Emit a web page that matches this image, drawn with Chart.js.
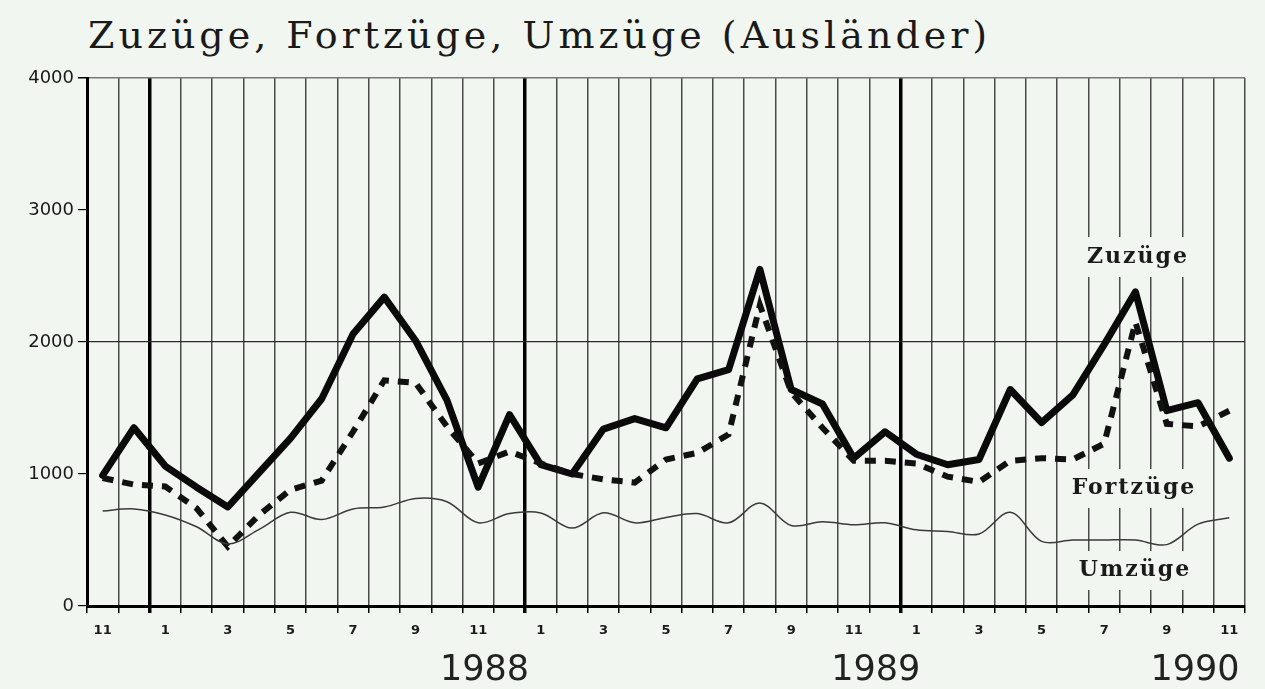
<!DOCTYPE html>
<html>
<head>
<meta charset="utf-8">
<script src="https://cdn.jsdelivr.net/npm/chart.js@4"></script>
<style>
  html, body { margin: 0; padding: 0; background: #f2f6f0; }
  #wrap { position: relative; width: 1265px; height: 689px; overflow: hidden; }
  #title {
    position: absolute; left: 88px; top: 13px;
    font-family: "DejaVu Serif", serif; font-size: 38px;
    letter-spacing: 4px; color: #1a1a1a; white-space: nowrap;
  }
  canvas { position: absolute; left: 0; top: 0; }
</style>
</head>
<body>
<div id="wrap">
  <div id="title">Zuzüge, Fortzüge, Umzüge (Ausländer)</div>
  <canvas id="chart" width="1265" height="689"></canvas>
</div>
<script>
// months Nov 1987 .. Nov 1990
const months = [11, 12, 1, 2, 3, 4, 5, 6, 7, 8, 9, 10, 11, 12,
  1, 2, 3, 4, 5, 6, 7, 8, 9, 10, 11, 12,
  1, 2, 3, 4, 5, 6, 7, 8, 9, 10, 11];

const zuzuege = [990, 1350, 1060, 900, 750, 1010, 1270, 1570, 2060, 2340,
  2010, 1560, 900, 1450, 1070, 1000, 1340, 1420, 1350, 1720,
  1790, 2550, 1640, 1530, 1120, 1320, 1150, 1070, 1110, 1640,
  1390, 1600, 1980, 2380, 1480, 1540, 1120];

const fortzuege = [970, 920, 905, 740, 450, 690, 880, 950, 1320, 1710,
  1690, 1360, 1080, 1170, 1080, 1000, 960, 935, 1110, 1160,
  1300, 2280, 1620, 1350, 1100, 1100, 1080, 980, 940, 1100,
  1120, 1110, 1230, 2150, 1380, 1360, 1480];

const umzuege = [720, 735, 690, 600, 470, 580, 710, 655, 735, 750,
  815, 790, 630, 700, 705, 590, 706, 630, 670, 700,
  630, 780, 610, 638, 615, 630, 577, 565, 545, 710,
  490, 500, 500, 500, 465, 620, 668];

const seriesNames = ["Zuzüge", "Fortzüge", "Umzüge"];
const yearLabels = ["1988", "1989", "1990"];
const yTicks = [0, 1000, 2000, 3000, 4000];

const BG = "#f2f6f0";

const annotations = {
  id: "annotations",
  beforeDatasetsDraw(chart) {
    const ctx = chart.ctx;
    ctx.save();
    // label boxes hide the grid behind the series names
    const boxes = [
      { text: seriesNames[0], x: 1070, y: 237, w: 134, h: 40 },
      { text: seriesNames[1], x: 1060, y: 469, w: 146, h: 39 },
      { text: seriesNames[2], x: 1064, y: 551, w: 140, h: 39 },
    ];
    ctx.font = "bold 22px 'DejaVu Serif'";
    ctx.letterSpacing = "2px";
    ctx.textAlign = "center";
    ctx.textBaseline = "middle";
    boxes.forEach((b) => {
      ctx.fillStyle = BG;
      ctx.fillRect(b.x, b.y, b.w, b.h);
      ctx.fillStyle = "#1a1a1a";
      ctx.fillText(b.text, b.x + b.w / 2 + 1, b.y + b.h / 2);
    });
    ctx.restore();
  },
  afterDraw(chart) {
    const ctx = chart.ctx;
    const x = chart.scales.x;
    const pos = [12.2, 24.7, 34.9];
    ctx.save();
    ctx.font = "35px 'DejaVu Sans'";
    ctx.fillStyle = "#222";
    ctx.textAlign = "center";
    ctx.textBaseline = "middle";
    yearLabels.forEach((t, i) => {
      ctx.fillText(t, x.getPixelForValue(pos[i]), 671);
    });
    ctx.restore();
  },
};

new Chart(document.getElementById("chart"), {
  type: "line",
  data: {
    labels: months,
    datasets: [
      {
        label: seriesNames[2],
        data: umzuege,
        borderColor: "#3a3a3a",
        borderWidth: 1.5,
        tension: 0.35,
        pointRadius: 0,
      },
      {
        label: seriesNames[1],
        data: fortzuege,
        borderColor: "#111",
        borderWidth: 6,
        borderDash: [11, 9],
        tension: 0,
        pointRadius: 0,
      },
      {
        label: seriesNames[0],
        data: zuzuege,
        borderColor: "#0a0a0a",
        borderWidth: 7,
        borderJoinStyle: "round",
        borderCapStyle: "round",
        tension: 0,
        pointRadius: 0,
      },
    ],
  },
  options: {
    responsive: false,
    animation: false,
    layout: { padding: { top: 78, right: 20, left: 0, bottom: 0 } },
    plugins: {
      legend: { display: false },
      title: { display: false },
      tooltip: { enabled: false },
    },
    scales: {
      x: {
        type: "category",
        offset: true,
        afterFit: (s) => { s.height = 83; },
        grid: {
          offset: true,
          drawTicks: true,
          tickLength: 7,
          tickColor: "#000",
          lineWidth: (c) => ([2, 14, 26].includes(c.index) ? 3.5 : 1.5),
          color: (c) => ([2, 14, 26].includes(c.index) ? "#000" : "#4a4a4a"),
        },
        border: { display: true, color: "#000", width: 3 },
        ticks: {
          autoSkip: false,
          maxRotation: 0,
          padding: 10,
          color: "#1a1a1a",
          font: { family: "DejaVu Sans", size: 13, weight: "bold" },
          callback: (v, i) => (i % 2 === 0 ? String(months[i]) : ""),
        },
      },
      y: {
        min: 0,
        max: 4000,
        afterFit: (s) => { s.width = 87; },
        afterBuildTicks: (s) => { s.ticks = yTicks.map((v) => ({ value: v })); },
        grid: {
          drawTicks: true,
          tickLength: 9,
          tickColor: "#000",
          lineWidth: (c) => (c.tick && c.tick.value === 4000 ? 1.5 : 1.2),
          color: (c) => {
            if (!c.tick) return "transparent";
            if (c.tick.value === 2000) return "#2a2a2a";
            if (c.tick.value === 4000) return "#777";
            return "transparent";
          },
        },
        border: { display: true, color: "#000", width: 3 },
        ticks: {
          padding: 4,
          color: "#1a1a1a",
          font: { family: "DejaVu Sans", size: 18 },
          callback: (v) => String(v),
        },
      },
    },
  },
  plugins: [annotations],
});
</script>
</body>
</html>
